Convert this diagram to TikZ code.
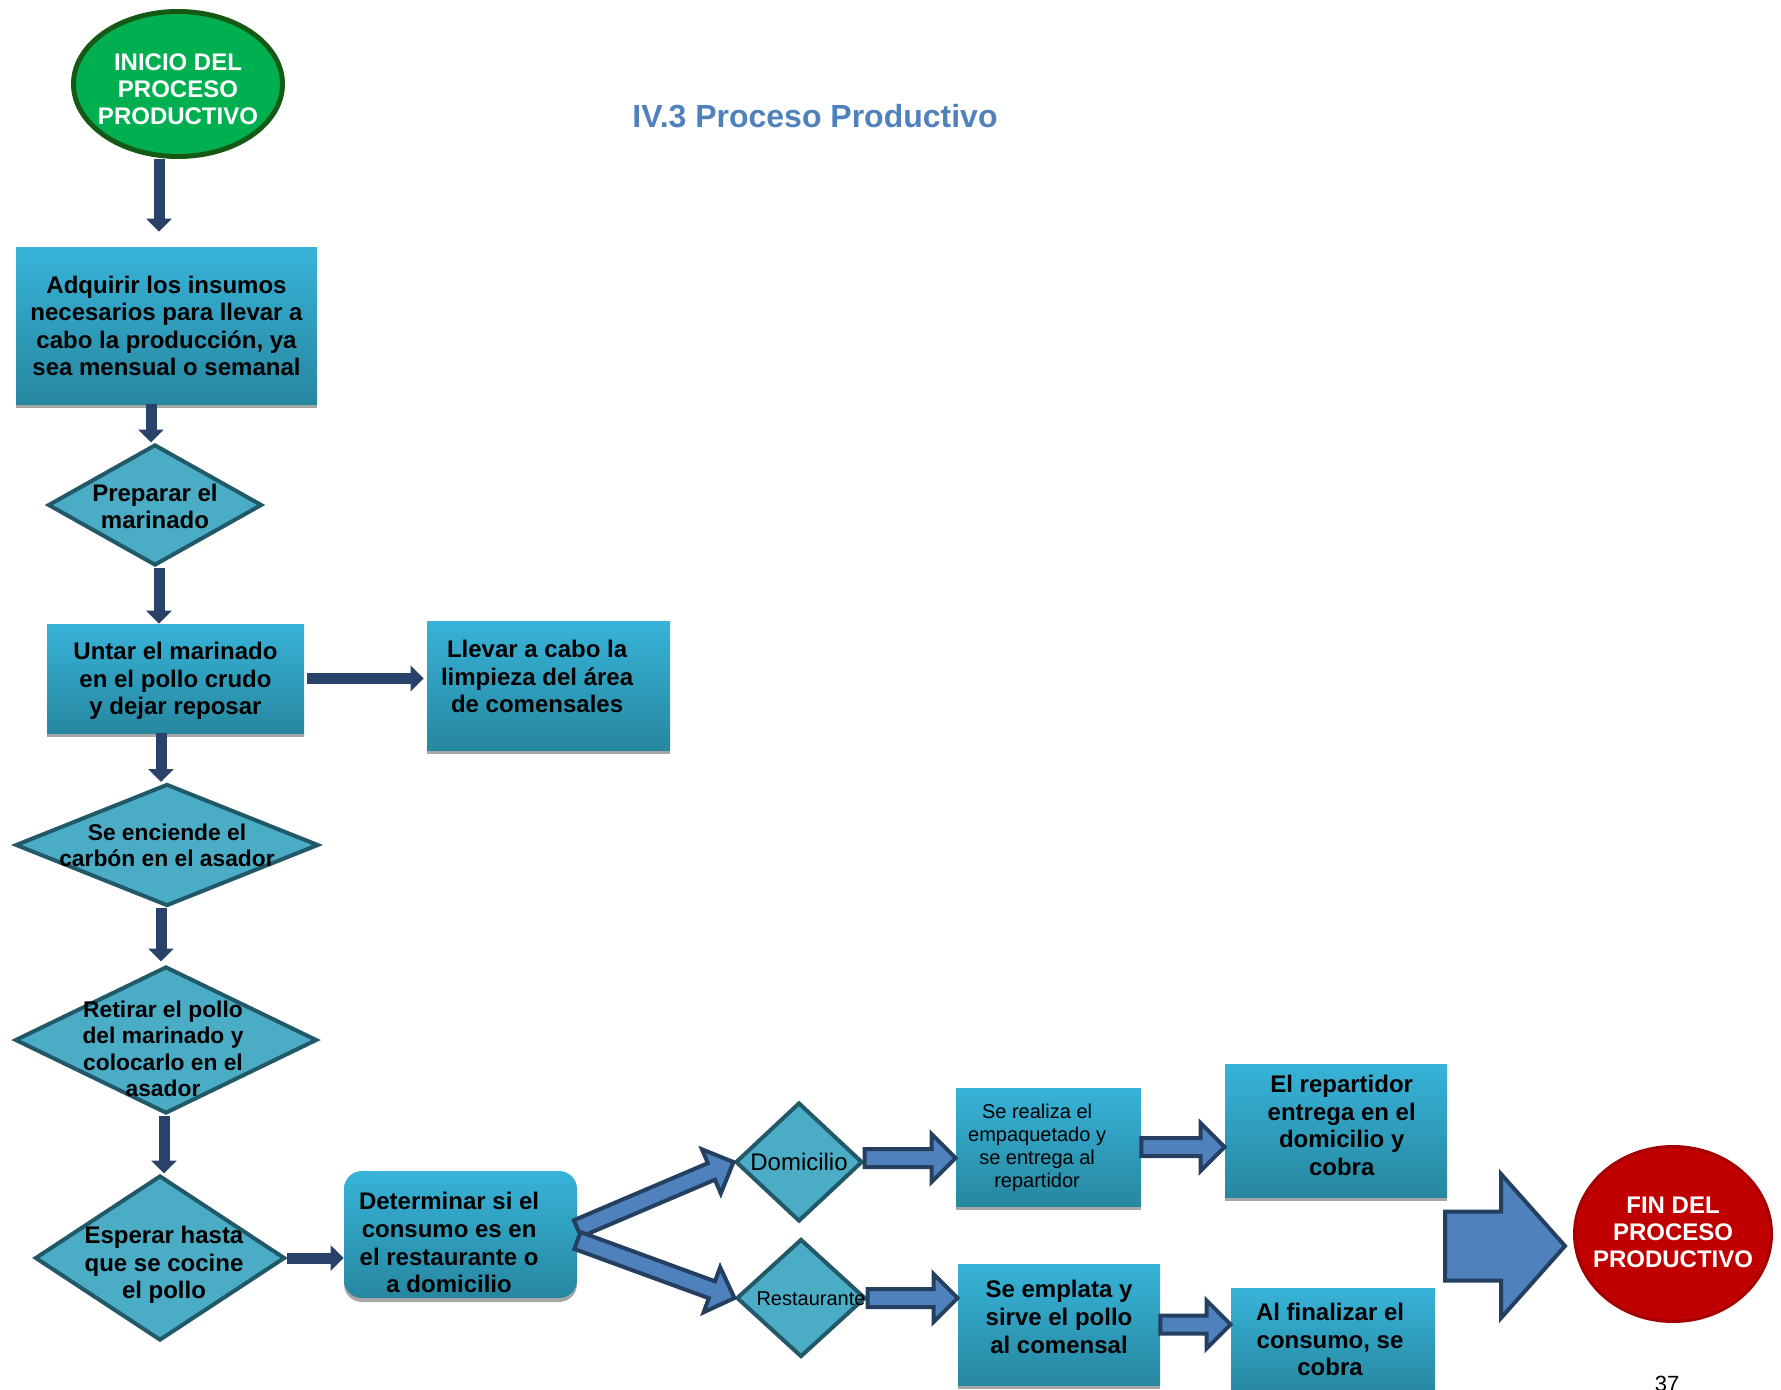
\documentclass[tikz,border=0pt]{standalone}
\usepackage{fontspec}
\setmainfont{Liberation Sans}
\usetikzlibrary{arrows.meta, shapes.geometric, shadows, calc}

\definecolor{cajaarriba}{HTML}{37B3D8}
\definecolor{cajaabajo}{HTML}{2787A0}
\definecolor{rombofill}{HTML}{4BACC6}
\definecolor{rombodraw}{HTML}{215968}
\definecolor{flechaosc}{HTML}{28426A}
\definecolor{flechafill}{HTML}{4F81BD}
\definecolor{flechaborde}{HTML}{243F60}
\definecolor{verdeini}{HTML}{00B050}
\definecolor{verdeborde}{HTML}{145A14}
\definecolor{rojofin}{HTML}{C00000}
\definecolor{rojoborde}{HTML}{A50000}
\definecolor{azultitulo}{HTML}{4F81BD}
\definecolor{sombra}{HTML}{A6A6A6}

% texto sin tamano, para que la figura no crezca ([2*dx]{dy}{texto})
\newcommand{\rtxt}[3][0pt]{\makebox[0pt]{\hspace*{#1}\raisebox{#2}[0pt][0pt]{\begin{tabular}{@{}c@{}}#3\end{tabular}}}}

\tikzset{
  caja/.style={rectangle, top color=cajaarriba, bottom color=cajaabajo, align=center, inner sep=2pt,
    font=\fontsize{12}{13.8}\selectfont\bfseries,
    drop shadow={shadow xshift=0pt, shadow yshift=-2pt, fill=sombra, opacity=1}},
  rombo/.style={diamond, fill=rombofill, draw=rombodraw, line width=2pt, inner sep=0pt,
    font=\fontsize{12}{13.8}\selectfont\bfseries},
  inicio/.style={ellipse, fill=verdeini, draw=verdeborde, line width=2.5pt, inner sep=0pt,
    minimum width=104.5pt, minimum height=72.5pt, text=white, font=\fontsize{12}{13.6}\selectfont\bfseries},
  final/.style={ellipse, fill=rojofin, draw=rojoborde, line width=1.5pt, inner sep=0pt,
    minimum width=98.5pt, minimum height=87.5pt, text=white, font=\fontsize{12}{13.6}\selectfont\bfseries},
  titulo/.style={text=azultitulo, font=\fontsize{16}{19}\selectfont\bfseries, inner sep=0pt},
  flechita/.style={draw=flechaosc, line width=5.5pt, -{Triangle[width=12.5pt,length=6.5pt]}},
  blk/.style n args={3}{draw=flechaborde, fill=flechafill, line width=2pt, line join=miter,
    to path={let \p1=(\tikztostart), \p2=(\tikztotarget),
      \n1={atan2(\y2-\y1,\x2-\x1)}, \n2={veclen(\x2-\x1,\y2-\y1)} in
      ([shift={(\p1)},rotate=\n1]0pt,#1) -- ([shift={(\p1)},rotate=\n1]\n2-#3,#1)
      -- ([shift={(\p1)},rotate=\n1]\n2-#3,#2) -- ([shift={(\p1)},rotate=\n1]\n2,0pt)
      -- ([shift={(\p1)},rotate=\n1]\n2-#3,-#2) -- ([shift={(\p1)},rotate=\n1]\n2-#3,-#1)
      -- ([shift={(\p1)},rotate=\n1]0pt,-#1) -- cycle}},
  flecha/.style={blk={4.5pt}{12pt}{12pt}},
  flechota/.style={blk={17.25pt}{36pt}{32pt}}
}

\begin{document}
\begin{tikzpicture}[x=0.5pt, y=-0.5pt]
\useasboundingbox (0,0) rectangle (1781,1390);

\node[titulo, anchor=base] (tit) at (815, 128) {IV.3 Proceso Productivo};

\node[inicio] (ini) at (178, 84) {\rtxt{-6.9pt}{INICIO DEL\\PROCESO\\PRODUCTIVO}};
\node[caja, minimum width=150.5pt, minimum height=78pt] (adq) at (166.5, 326) {Adquirir los insumos\\necesarios para llevar a\\cabo la producción, ya\\sea mensual o semanal};
\node[rombo, minimum width=107pt, minimum height=60.5pt] (prep) at (155, 505) {\rtxt{-5.2pt}{Preparar el\\marinado}};
\node[caja, minimum width=128.5pt, minimum height=54.5pt] (untar) at (175.5, 678.5) {\rtxt{-4.6pt}{Untar el marinado\\en el pollo crudo\\y dejar reposar}};
\node[caja, minimum width=121.5pt, minimum height=64.5pt] (limp) at (548.5, 685.5) {\rtxt[-11.4pt]{-0.1pt}{Llevar a cabo la\\limpieza del área\\de comensales}};
\node[rombo, font=\fontsize{11.4}{13.2}\selectfont\bfseries, minimum width=151.5pt, minimum height=61pt] (carbon) at (167, 845) {\rtxt{-4.4pt}{Se enciende el\\carbón en el asador}};
\node[rombo, font=\fontsize{11.4}{13.2}\selectfont\bfseries, minimum width=151pt, minimum height=73.5pt] (retirar) at (166, 1040) {\rtxt[-3pt]{-8.6pt}{Retirar el pollo\\del marinado y\\colocarlo en el\\asador}};
\node[rombo, minimum width=125pt, minimum height=82.5pt] (esperar) at (160, 1258) {\rtxt[4pt]{-6.9pt}{Esperar hasta\\que se cocine\\el pollo}};
\node[caja, rounded corners=9pt, minimum width=116.5pt, minimum height=63.5pt] (det) at (460.5, 1234.5) {\rtxt[-11.4pt]{-8.6pt}{Determinar si el\\consumo es en\\el restaurante o\\a domicilio}};
\node[rombo, font=\fontsize{12}{13.8}\selectfont, minimum width=63.5pt, minimum height=59.5pt] (dom) at (799, 1162) {\rtxt{-4.6pt}{Domicilio}};
\node[rombo, font=\fontsize{10}{12}\selectfont, minimum width=64.5pt, minimum height=59pt] (rest) at (801, 1298) {\rtxt[10pt]{-4pt}{Restaurante}};
\node[caja, font=\fontsize{10}{11.5}\selectfont, minimum width=92.5pt, minimum height=59pt] (empaq) at (1048.5, 1147) {\rtxt[-11.4pt]{-3pt}{Se realiza el\\empaquetado y\\se entrega al\\repartidor}};
\node[caja, minimum width=111pt, minimum height=66.5pt] (repart) at (1336, 1130.5) {\rtxt[5.7pt]{-2pt}{El repartidor\\entrega en el\\domicilio y\\cobra}};
\node[caja, minimum width=101pt, minimum height=60.5pt] (emplata) at (1059, 1324.5) {\rtxt{-0.7pt}{Se emplata y\\sirve el pollo\\al comensal}};
\node[caja, minimum width=102pt, minimum height=53.5pt] (cobro) at (1333, 1341.5) {\rtxt[-3pt]{-3.5pt}{Al finalizar el\\consumo, se\\cobra}};
\node[final] (fin) at (1673, 1234) {\rtxt{-3.5pt}{FIN DEL\\PROCESO\\PRODUCTIVO}};
\coordinate (cola) at (1445, 1246);
\node[font=\fontsize{11}{13}\selectfont, anchor=base, inner sep=0pt] (pag) at (1667, 1391) {37};

% flechas oscuras
\draw
([xshift=-9.5pt]ini.south) edge[flechita, shorten >=8pt] ([xshift=-9.5pt]ini.south |- adq.north)
([xshift=-7.75pt]adq.south) edge[flechita] ([xshift=-7.75pt]adq.south |- prep.north)
([xshift=2pt]prep.south) edge[flechita] ([xshift=2pt]prep.south |- untar.north)
(untar.east) edge[flechita, shorten <=1.5pt, shorten >=1.5pt] (untar.east -| limp.west)
([xshift=-7.25pt]untar.south) edge[flechita] ([xshift=-7.25pt]untar.south |- carbon.north)
([xshift=-3pt]carbon.south) edge[flechita, shorten >=1.5pt] ([xshift=-3pt]carbon.south |- retirar.north)
([xshift=-1pt]retirar.south) edge[flechita] ([xshift=-1pt]retirar.south |- esperar.north)
(esperar.east) edge[flechita] (esperar.east -| det.west);

% flechas de bloque
\draw
([yshift=3pt]det.east) edge[flecha] (dom.west)
([yshift=-3pt]det.east) edge[flecha] (rest.west)
([yshift=2pt]dom.east) edge[flecha] ([yshift=2pt]dom.east -| empaq.west)
(empaq.east) edge[flecha] (empaq.east -| repart.west)
(rest.east) edge[flecha] (rest.east -| emplata.west)
(emplata.east) edge[flecha] (emplata.east -| cobro.west)
(cola) edge[flechota] ([xshift=-4pt]cola -| fin.west);
\end{tikzpicture}
\end{document}
